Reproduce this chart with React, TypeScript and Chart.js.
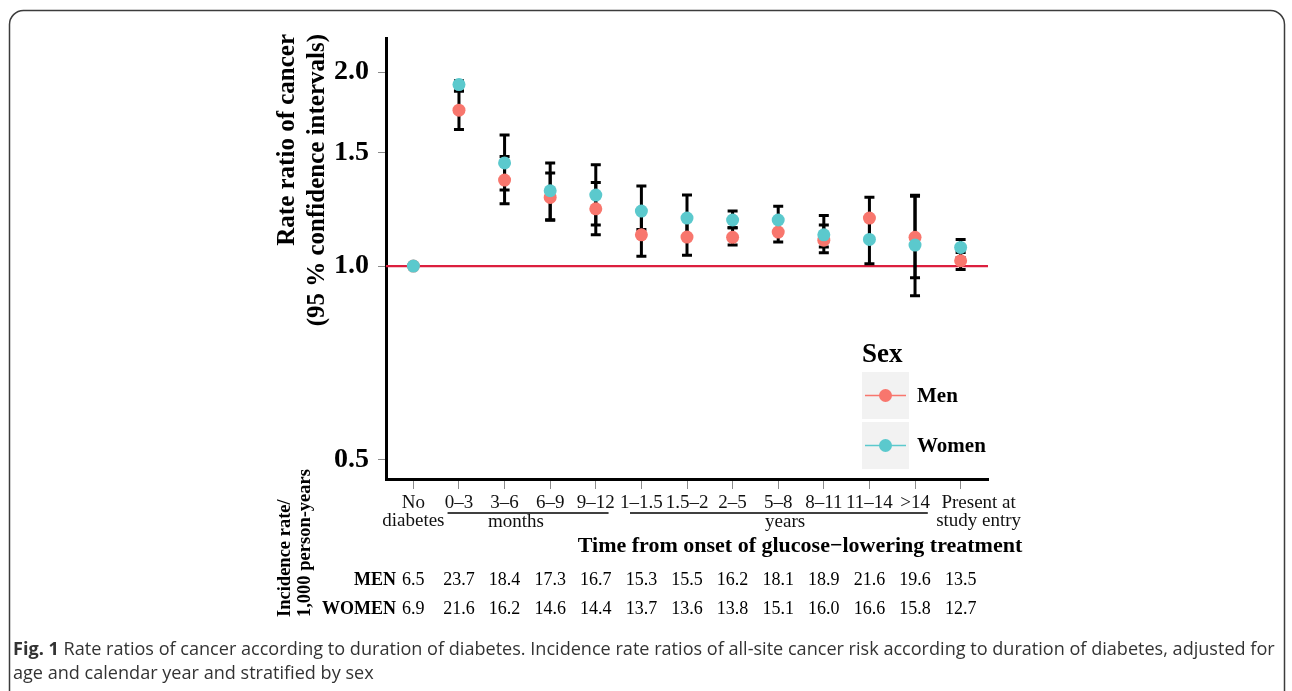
import React, { useEffect, useRef } from 'react';
import { Chart, registerables } from 'chart.js';
Chart.register(...registerables);

const W = 1292;
const H = 691;

// ---------- data ----------
const categories: (string | string[])[] = [
  ['No', 'diabetes'], '0–3', '3–6', '6–9', '9–12', '1–1.5', '1.5–2', '2–5', '5–8', '8–11', '11–14', '>14', ['Present at', 'study entry'],
];
const menRR = [1.0, 1.746, 1.36, 1.278, 1.227, 1.118, 1.109, 1.108, 1.129, 1.097, 1.187, 1.108, 1.019];
const menLower = [1.0, 1.629, 1.249, 1.178, 1.118, 1.036, 1.039, 1.078, 1.0895, 1.049, 1.10, 0.959, 0.988];
const menUpper = [1.0, 1.87, 1.48, 1.395, 1.348, 1.22, 1.19, 1.147, 1.18, 1.198, 1.279, 1.283, 1.05];
const womenRR = [1.0, 1.913, 1.446, 1.309, 1.289, 1.217, 1.187, 1.179, 1.179, 1.118, 1.10, 1.078, 1.069];
const womenLower = [1.0, 1.87, 1.312, 1.18, 1.158, 1.14, 1.11, 1.147, 1.13, 1.07, 1.008, 0.899, 1.03];
const womenUpper = [1.0, 1.94, 1.597, 1.446, 1.436, 1.331, 1.289, 1.217, 1.238, 1.158, 1.19, 1.288, 1.10];
const menIncidence = ['6.5', '23.7', '18.4', '17.3', '16.7', '15.3', '15.5', '16.2', '18.1', '18.9', '21.6', '19.6', '13.5'];
const womenIncidence = ['6.9', '21.6', '16.2', '14.6', '14.4', '13.7', '13.6', '13.8', '15.1', '16.0', '16.6', '15.8', '12.7'];
const yTicks = [0.5, 1.0, 1.5, 2.0];
const referenceRR = 1.0;
const groupLabels = ['months', 'years'];
const groupFrom = [1, 5];
const groupTo = [4, 11];
const seriesNames = ['Men', 'Women'];

// ---------- style ----------
const MEN_COLOR = '#F8766D';
const WOMEN_COLOR = '#5BC9CD';
const SERIF = '"Liberation Serif", "DejaVu Serif", serif';
const SANS = '"Open Sans", "Noto Sans", sans-serif';
const LAST = categories.length - 1;

export default function App() {
  const ref = useRef<HTMLCanvasElement>(null);

  useEffect(() => {
    document.body.style.margin = '0';
    const canvas = ref.current!;

    const overlay = {
      id: 'overlay',
      beforeDatasetsDraw(chart: any) {
        const { ctx, chartArea } = chart;
        const xs = chart.scales.x;
        const ys = chart.scales.y;
        ctx.save();
        const yRef = ys.getPixelForValue(referenceRR);
        ctx.strokeStyle = '#DC1F3E';
        ctx.lineWidth = 2.2;
        ctx.beginPath();
        ctx.moveTo(chartArea.left, yRef);
        ctx.lineTo(chartArea.right, yRef);
        ctx.stroke();
        ctx.strokeStyle = '#000';
        ctx.lineWidth = 3;
        const cw = 5;
        const draw = (lo: number[], hi: number[]) => {
          for (let i = 0; i < lo.length; i++) {
            if (lo[i] === hi[i]) continue;
            const x = xs.getPixelForValue(i);
            const y1 = ys.getPixelForValue(lo[i]);
            const y2 = ys.getPixelForValue(hi[i]);
            ctx.beginPath();
            ctx.moveTo(x, y1);
            ctx.lineTo(x, y2);
            ctx.moveTo(x - cw, y1);
            ctx.lineTo(x + cw, y1);
            ctx.moveTo(x - cw, y2);
            ctx.lineTo(x + cw, y2);
            ctx.stroke();
          }
        };
        draw(menLower, menUpper);
        draw(womenLower, womenUpper);
        ctx.restore();
      },
      afterDraw(chart: any) {
        const { ctx } = chart;
        const xs = chart.scales.x;
        ctx.save();
        ctx.fillStyle = '#000';

        // y axis title (rotated)
        const rot = (text: string, x: number, y: number, align: CanvasTextAlign) => {
          ctx.save();
          ctx.textBaseline = 'middle';
          ctx.textAlign = align;
          ctx.translate(x, y);
          ctx.rotate(-Math.PI / 2);
          ctx.fillText(text, 0, 0);
          ctx.restore();
        };
        ctx.font = `bold 25px ${SERIF}`;
        rot('Rate ratio of cancer', 288, 34, 'right');
        rot('(95 % confidence intervals)', 318, 34, 'right');

        // last category label, shifted right as in the original
        ctx.font = `19px ${SERIF}`;
        ctx.textAlign = 'center';
        ctx.textBaseline = 'middle';
        const lastLab = categories[LAST] as string[];
        const lx = xs.getPixelForValue(LAST) + 18;
        ctx.fillStyle = '#111';
        ctx.fillText(lastLab[0], lx, 503.5);
        ctx.fillText(lastLab[1], lx, 521.5);
        ctx.fillStyle = '#000';

        // group brackets under x tick labels
        ctx.strokeStyle = '#000';
        ctx.lineWidth = 1.4;
        const groupCenters = [2.25, 8.15];
        for (let g = 0; g < groupLabels.length; g++) {
          const a = xs.getPixelForValue(groupFrom[g] - 0.25);
          const b = xs.getPixelForValue(groupTo[g] + 0.28);
          ctx.beginPath();
          ctx.moveTo(a, 513);
          ctx.lineTo(b, 513);
          ctx.stroke();
          ctx.fillStyle = '#111';
          ctx.fillText(groupLabels[g], xs.getPixelForValue(groupCenters[g]), 522);
        }
        ctx.fillStyle = '#000';

        // x axis title
        ctx.font = `bold 22px ${SERIF}`;
        ctx.fillText('Time from onset of glucose\u2212lowering treatment', 800, 546);

        // incidence table
        ctx.font = `bold 18px ${SERIF}`;
        ctx.textAlign = 'right';
        ctx.fillText('MEN', 396, 580);
        ctx.fillText('WOMEN', 396, 609);
        ctx.font = `18px ${SERIF}`;
        ctx.textAlign = 'center';
        for (let i = 0; i < menIncidence.length; i++) {
          const x = xs.getPixelForValue(i);
          ctx.fillText(menIncidence[i], x, 580);
          ctx.fillText(womenIncidence[i], x, 609);
        }
        ctx.font = `bold 18.5px ${SERIF}`;
        rot('Incidence rate/', 285, 617, 'left');
        rot('1,000 person-years', 305, 617, 'left');

        // legend
        ctx.textAlign = 'left';
        ctx.textBaseline = 'middle';
        ctx.font = `bold 27px ${SERIF}`;
        ctx.fillText('Sex', 862, 355);
        const colors = [MEN_COLOR, WOMEN_COLOR];
        for (let k = 0; k < 2; k++) {
          const top = 372 + k * 50;
          ctx.fillStyle = '#F2F2F2';
          ctx.fillRect(862, top, 47, 47);
          const cy = top + 23.5;
          ctx.strokeStyle = colors[k];
          ctx.lineWidth = 1.6;
          ctx.beginPath();
          ctx.moveTo(865, cy);
          ctx.lineTo(906, cy);
          ctx.stroke();
          ctx.fillStyle = colors[k];
          ctx.beginPath();
          ctx.arc(885.5, cy, 6.5, 0, Math.PI * 2);
          ctx.fill();
          ctx.fillStyle = '#000';
          ctx.font = `bold 21px ${SERIF}`;
          ctx.fillText(seriesNames[k], 917, cy + 1.5);
        }

        // frame
        ctx.strokeStyle = '#3c3c3c';
        ctx.lineWidth = 1.5;
        ctx.beginPath();
        (ctx as any).roundRect(9.5, 10.5, 1275, 720, 14);
        ctx.stroke();

        // caption
        const capBold = 'Fig. 1';
        const cap1 = ' Rate ratios of cancer according to duration of diabetes. Incidence rate ratios of all-site cancer risk according to duration of diabetes, adjusted for';
        const cap2 = 'age and calendar year and stratified by sex';
        let size = 17;
        ctx.font = `bold ${size}px ${SANS}`;
        let wb = ctx.measureText(capBold).width;
        ctx.font = `${size}px ${SANS}`;
        let w1 = ctx.measureText(cap1).width;
        size = (size * (1276 - 13)) / (wb + w1);
        ctx.font = `bold ${size}px ${SANS}`;
        wb = ctx.measureText(capBold).width;
        ctx.fillStyle = '#333';
        ctx.textBaseline = 'middle';
        ctx.fillText(capBold, 13, 650);
        ctx.font = `${size}px ${SANS}`;
        ctx.fillText(cap1, 13 + wb, 650);
        ctx.fillText(cap2, 13, 674);

        ctx.restore();
      },
    };

    const chart = new Chart(canvas, {
      type: 'scatter',
      data: {
        datasets: [
          {
            label: 'Women',
            data: womenRR.map((y, i) => ({ x: i, y })),
            backgroundColor: WOMEN_COLOR,
            borderColor: WOMEN_COLOR,
            pointRadius: 6.5,
            pointBorderWidth: 0,
            order: 1,
          },
          {
            label: 'Men',
            data: menRR.map((y, i) => ({ x: i, y })),
            backgroundColor: MEN_COLOR,
            borderColor: MEN_COLOR,
            pointRadius: 6.5,
            pointBorderWidth: 0,
            order: 2,
          },
        ],
      },
      options: {
        responsive: false,
        animation: false,
        devicePixelRatio: 1,
        layout: { padding: { left: 272, right: 304, top: 38, bottom: 0 } },
        plugins: { legend: { display: false }, tooltip: { enabled: false } },
        scales: {
          x: {
            type: 'linear',
            min: -0.6,
            max: 12.6,
            afterBuildTicks: (s: any) => {
              s.ticks = categories.map((_, i) => ({ value: i }));
            },
            afterFit: (s: any) => {
              s.height = 212;
            },
            ticks: {
              callback: (v: any) => {
                const i = Math.round(Number(v));
                return i === LAST ? '' : categories[i];
              },
              font: { family: SERIF, size: 19, lineHeight: 0.95 },
              color: '#111',
              padding: 5,
              maxRotation: 0,
              minRotation: 0,
              autoSkip: false,
            },
            grid: { drawOnChartArea: false, drawTicks: true, tickLength: 10, color: '#8a8a8a', lineWidth: 1 },
            border: { display: true, color: '#000', width: 3 },
          },
          y: {
            type: 'logarithmic',
            min: 0.467,
            max: 2.26,
            afterBuildTicks: (s: any) => {
              s.ticks = yTicks.map((v) => ({ value: v }));
            },
            afterFit: (s: any) => {
              s.width = 114;
            },
            ticks: {
              callback: (v: any) => Number(v).toFixed(1),
              font: { family: SERIF, size: 28, weight: 'bold' },
              color: '#000',
              padding: 9,
            },
            grid: { drawOnChartArea: false, drawTicks: true, tickLength: 8, color: '#8a8a8a', lineWidth: 1 },
            border: { display: true, color: '#000', width: 3 },
          },
        },
      },
      plugins: [overlay],
    } as any);

    return () => chart.destroy();
  }, []);

  return (
    <div style={{ position: 'absolute', left: 0, top: 0, width: W, height: H, background: '#fff' }}>
      <canvas ref={ref} width={W} height={H} style={{ display: 'block', width: W, height: H }} />
    </div>
  );
}
